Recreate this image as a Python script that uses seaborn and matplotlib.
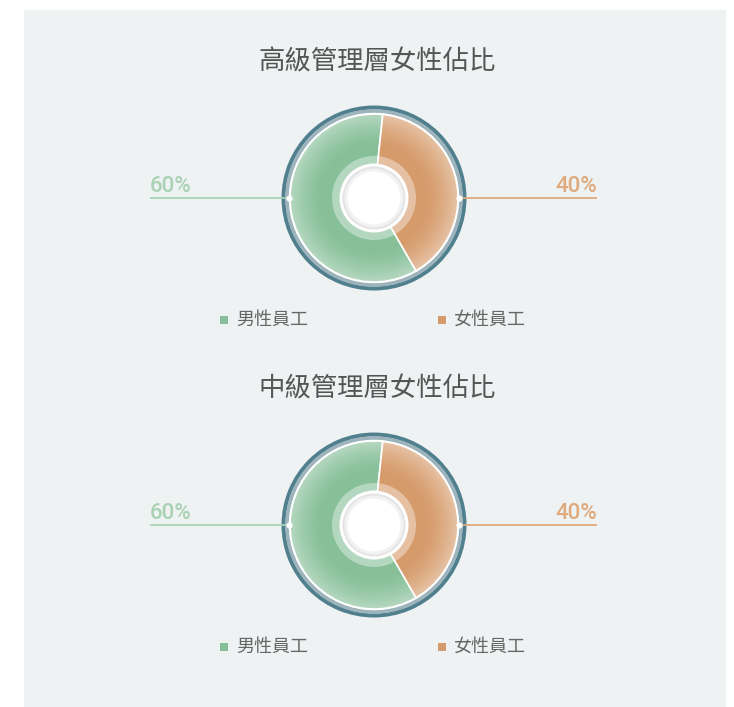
import numpy as np
import matplotlib
matplotlib.use("Agg")
import matplotlib.pyplot as plt
from matplotlib.patches import Circle, Wedge, Rectangle
import seaborn as sns

# ---- data ----
titles = ["高級管理層女性佔比", "中級管理層女性佔比"]
categories = ["男性員工", "女性員工"]
male_share = [60, 60]
female_share = [40, 40]

sns.set_theme(style="white")
plt.rcParams["font.family"] = ["Noto Sans CJK TC", "DejaVu Sans"]

palette = sns.color_palette(["#86bf98", "#d69b6b"])
label_colors = ["#a9d2b4", "#dfaa7e"]
bg = "#eef2f3"

W, H = 734, 707
fig = plt.figure(figsize=(W / 100, H / 100), dpi=100)
fig.patch.set_facecolor("white")
ax = fig.add_axes([0, 0, 1, 1])
ax.set_facecolor("white")

# panel background
ax.add_patch(Rectangle((24, 0), 702, H - 10, facecolor=bg, edgecolor="none", zorder=0))

R = 84
centers_y = [H - 198, H - 525]
title_y = [H - 60, H - 387]
legend_y = [H - 318, H - 645]
cx = 374

# radial highlight used to lighten slice edges
n = 300
g = np.linspace(-1, 1, n)
xx, yy = np.meshgrid(g, g)
rr = np.sqrt(xx ** 2 + yy ** 2)
alpha = np.clip((rr - 0.6) / 0.4, 0, 1) ** 1.5 * 0.4
shade = np.zeros((n, n, 4))
shade[..., :3] = 1.0
shade[..., 3] = alpha

pct_font = dict(family=["Roboto", "DejaVu Sans"], fontweight="medium", fontsize=16)

for i in range(2):
    cy = centers_y[i]
    vals = [male_share[i], female_share[i]]

    # outer rim
    ax.add_patch(Wedge((cx, cy), 92.5, 0, 360, width=4.0, facecolor="#507f8e", edgecolor="none", zorder=2))
    ax.add_patch(Wedge((cx, cy), 88.8, 0, 360, width=4.0, facecolor="#9db4bd", edgecolor="none", zorder=2))
    ax.add_patch(Circle((cx, cy), 85.2, facecolor="white", edgecolor="none", zorder=2))

    wedges, _ = ax.pie(
        vals, colors=palette, startangle=-60, counterclock=False,
        center=(cx, cy), radius=R,
        wedgeprops=dict(edgecolor="white", linewidth=1.2),
    )
    for w in wedges:
        w.set_zorder(3)

    clip = Circle((cx, cy), R, transform=ax.transData)
    im = ax.imshow(shade, extent=(cx - R, cx + R, cy - R, cy + R), zorder=4, interpolation="bilinear")
    im.set_clip_path(clip)

    # inner translucent ring and white hub
    ax.add_patch(Circle((cx, cy), 42, facecolor="white", alpha=0.38, edgecolor="none", zorder=5))
    ax.add_patch(Circle((cx, cy), 34.5, facecolor="white", edgecolor="none", zorder=6))
    ax.add_patch(Circle((cx, cy), 31.5, facecolor="#e4e4e4", edgecolor="none", zorder=6))
    ax.add_patch(Circle((cx, cy), 29.5, facecolor="#f2f2f2", edgecolor="none", zorder=6))
    ax.add_patch(Circle((cx, cy), 26.5, facecolor="white", edgecolor="none", zorder=6))

    # value labels with leader lines
    ax.plot([150, cx - 85], [cy, cy], color=label_colors[0], lw=1.3, zorder=7, solid_capstyle="butt")
    ax.plot([cx + 85, 597], [cy, cy], color=label_colors[1], lw=1.3, zorder=7, solid_capstyle="butt")
    ax.plot([cx - 85, cx + 85], [cy, cy], ls="none", marker="o", ms=3.5, mfc="white", mec="white", zorder=8)
    ax.text(150, cy + 6, f"{male_share[i]}%", ha="left", va="baseline",
            color=label_colors[0], zorder=8, **pct_font)
    ax.text(597, cy + 6, f"{female_share[i]}%", ha="right", va="baseline",
            color=label_colors[1], zorder=8, **pct_font)

    # title
    ax.text(377, title_y[i] - 2, titles[i], ha="center", va="center", fontsize=19,
            color="#555555", zorder=8)

    # legend
    ly = legend_y[i] - 1.5
    for x0, name, col in [(224, categories[0], palette[0]), (442, categories[1], palette[1])]:
        ax.add_patch(Rectangle((x0 - 4, ly - 4), 8, 8, facecolor=col, edgecolor="none", zorder=8))
        ax.text(x0 + 12, ly, name, ha="left", va="center", fontsize=13, color="#666666", zorder=8)

ax.set_xlim(0, W)
ax.set_ylim(0, H)
ax.set_aspect("auto")
ax.axis("off")

fig.savefig("out.png", dpi=100, facecolor="white")
